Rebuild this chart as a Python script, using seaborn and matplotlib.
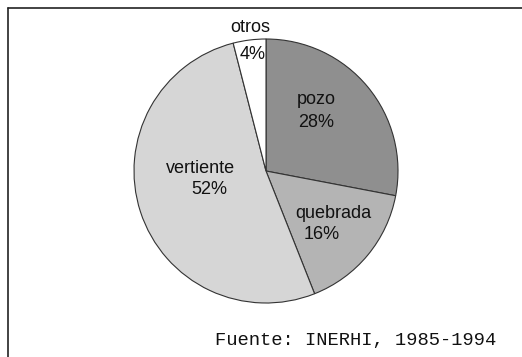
import matplotlib
matplotlib.use("Agg")
import matplotlib.pyplot as plt
import seaborn as sns

# Water sources by type (percent)
categories = ["pozo", "quebrada", "vertiente", "otros"]
shares = [28, 16, 52, 4]
source_note = "Fuente: INERHI, 1985-1994"

sns.set_theme(style="white")
plt.rcParams["font.family"] = ["Liberation Sans", "DejaVu Sans"]

fills = ["#8f8f8f", "#b4b4b4", "#d6d6d6", "#ffffff"]

fig = plt.figure(figsize=(5.22, 3.57), dpi=100)
W, H = 522, 357
cx, cy, r = 266, 171, 132
ax = fig.add_axes([(cx - r) / W, (H - cy - r) / H, 2 * r / W, 2 * r / H])

wedges, _ = ax.pie(shares, colors=fills, startangle=90, counterclock=False,
                   radius=1.0, center=(0, 0), frame=False,
                   wedgeprops=dict(edgecolor="#333333", linewidth=0.8))
ax.set_xlim(-1, 1)
ax.set_ylim(-1, 1)
ax.set_aspect("equal")
ax.axis("off")

# Category names and percentages
label_pos = {
    "pozo": ((0.38, 0.54), (0.38, 0.37)),
    "quebrada": ((0.51, -0.32), (0.42, -0.48)),
    "vertiente": ((-0.50, 0.02), (-0.43, -0.14)),
    "otros": ((-0.12, 1.09), (-0.10, 0.88)),
}
for name, val in zip(categories, shares):
    (nx, ny), (px, py) = label_pos[name]
    ax.text(nx, ny, name, ha="center", va="center", fontsize=13, color="#111111")
    ax.text(px, py, f"{val}%", ha="center", va="center", fontsize=13, color="#111111")

# Frame lines along top and left edges
fig.add_artist(plt.Line2D([8 / W, 1.0], [1 - 8 / H, 1 - 8 / H], color="#222222", linewidth=1.2))
fig.add_artist(plt.Line2D([8 / W, 8 / W], [0.0, 1 - 8 / H], color="#222222", linewidth=1.2))

fig.text(356 / W, 1 - 341 / H, source_note, ha="center", va="center",
         fontsize=13.5, family=["Liberation Mono", "DejaVu Sans Mono"], color="#111111")

fig.savefig("out.png", dpi=100, facecolor="white")
